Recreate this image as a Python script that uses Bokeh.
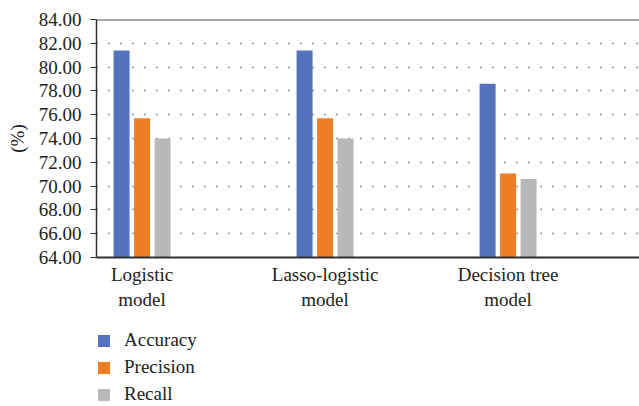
from bokeh.plotting import figure
from bokeh.layouts import column
from bokeh.models import Legend, LegendItem, Span, FixedTicker, NumeralTickFormatter
from bokeh.embed import file_html
from bokeh.resources import INLINE

# Model comparison: accuracy / precision / recall (%)
models = ["Logistic\nmodel", "Lasso-logistic\nmodel", "Decision tree\nmodel"]
metrics = ["Accuracy", "Precision", "Recall"]
accuracy = [81.4, 81.4, 78.6]
precision = [75.7, 75.7, 71.05]
recall = [74.0, 74.0, 70.6]
y_ticks = [64, 66, 68, 70, 72, 74, 76, 78, 80, 82, 84]
colors = ["#5374BC", "#EE7D26", "#B8B8B8"]

FONT = "'Liberation Serif', 'Times New Roman', serif"
series = [accuracy, precision, recall]

p = figure(
    width=639, height=318,
    x_range=(-0.249, 2.718), y_range=(y_ticks[0], y_ticks[-1]),
    output_backend="svg", toolbar_location=None,
    min_border_left=96, min_border_right=0, min_border_top=19, min_border_bottom=61,
)
p.outline_line_color = None

# grouped bars: three metrics side by side per model
step = 0.112
bar_w = 0.0874
for k, (vals, col) in enumerate(zip(series, colors)):
    xs = [i + (k - 1) * step for i in range(len(models))]
    p.vbar(x=xs, top=vals, bottom=y_ticks[0], width=bar_w,
           fill_color=col, line_color=None)

# top border line at the maximum of the scale
p.add_layout(Span(location=y_ticks[-1], dimension="width",
                  line_color="#505050", line_width=2))

# y axis
p.yaxis.ticker = FixedTicker(ticks=y_ticks)
p.yaxis.formatter = NumeralTickFormatter(format="0.00")
p.yaxis.axis_label = "(%)"
p.yaxis.axis_label_text_font = FONT
p.yaxis.axis_label_text_font_style = "normal"
p.yaxis.axis_label_text_font_size = "19px"
p.yaxis.axis_label_text_color = "#222222"
p.yaxis.axis_label_standoff = 8
p.yaxis.major_label_text_font = FONT
p.yaxis.major_label_text_font_size = "19px"
p.yaxis.major_label_text_color = "#222222"
p.yaxis.major_tick_out = 6
p.yaxis.major_tick_in = 0
p.yaxis.minor_tick_line_color = None
p.yaxis.axis_line_color = "#303030"
p.yaxis.axis_line_width = 1.5
p.yaxis.major_tick_line_color = "#303030"
p.yaxis.major_label_standoff = 9

# x axis with two-line category labels
p.xaxis.ticker = FixedTicker(ticks=list(range(len(models))))
p.xaxis.major_label_overrides = {i: m for i, m in enumerate(models)}
p.xaxis.major_label_text_font = FONT
p.xaxis.major_label_text_font_size = "19px"
p.xaxis.major_label_text_color = "#222222"
p.xaxis.major_tick_line_color = None
p.xaxis.minor_tick_line_color = None
p.xaxis.axis_line_color = "#303030"
p.xaxis.axis_line_width = 2
p.xaxis.major_label_standoff = 0

# dotted horizontal grid
p.xgrid.grid_line_color = None
p.ygrid.ticker = FixedTicker(ticks=y_ticks[1:-1])
p.ygrid.grid_line_color = "#333333"
p.ygrid.grid_line_width = 1.5
p.ygrid.grid_line_dash = "1 11"

# legend strip under the chart (swatch renderers sit outside the visible range)
leg = figure(
    width=639, height=88, x_range=(0, 1), y_range=(0, 1),
    x_axis_location=None, y_axis_location=None,
    output_backend="svg", toolbar_location=None,
    min_border_left=0, min_border_right=0, min_border_top=0, min_border_bottom=0,
)
leg.grid.visible = False
leg.outline_line_color = None
swatches = [leg.vbar(x=[-5], top=[-5], bottom=[-6], width=0.1, fill_color=c, line_color=None)
            for c in colors]

legend = Legend(
    items=[LegendItem(label=m, renderers=[r]) for m, r in zip(metrics, swatches)],
    orientation="vertical", location=(0, 1),
    label_text_font=FONT, label_text_font_size="19px", label_text_color="#222222",
    glyph_width=15, glyph_height=15, label_standoff=13,
    label_height=21, spacing=5, padding=0, margin=0,
    border_line_color=None, background_fill_alpha=0,
)
leg.add_layout(legend, "center")

layout = column(p, leg, spacing=0)
open("out.html", "w").write(file_html(layout, INLINE))
